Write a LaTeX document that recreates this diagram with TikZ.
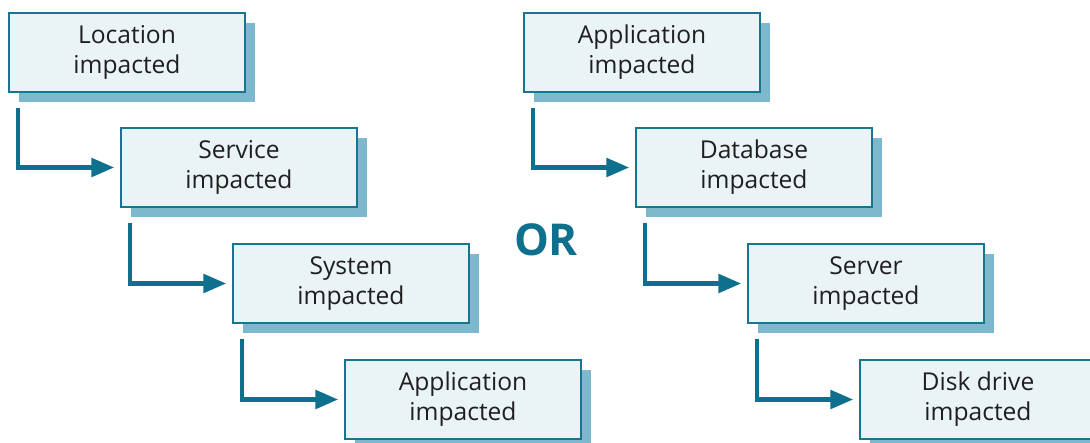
\documentclass[tikz,border=0pt]{standalone}
\usepackage{fontspec}
\setmainfont{Open Sans}
\usetikzlibrary{arrows.meta,shadows}
\definecolor{boxfill}{RGB}{234,243,246}
\definecolor{boxline}{RGB}{22,118,145}
\definecolor{shadowc}{RGB}{125,184,204}
\definecolor{flowc}{RGB}{14,112,140}

\tikzset{
  impact/.style={draw=boxline,line width=0.8pt,fill=boxfill,minimum width=4.72cm,minimum height=1.58cm,
    align=center,inner sep=0pt,font=\fontsize{14}{17}\selectfont,text=black!88,
    drop shadow={shadow xshift=5.7pt,shadow yshift=-5.7pt,fill=shadowc,opacity=1}},
  flow/.style={draw=flowc,line width=2.4pt,-{Triangle[length=13pt,width=10.5pt]},shorten >=3.5pt}
}

\begin{document}
\begin{tikzpicture}[x=0.02cm,y=-0.02cm]
\useasboundingbox (0,0) rectangle (1090,443);
\clip (0,0) rectangle (1090,443);
% left chain
\node[impact] (loc) at (127,52.5) {Location\\impacted};
\node[impact] (svc) at (239,167.5) {Service\\impacted};
\node[impact] (sys) at (351,283.5) {System\\impacted};
\node[impact] (app) at (463,399.5) {Application\\impacted};
\draw[flow] ([xshift=5.7pt,yshift=-8.5pt]loc.south west) |- (svc.west);
\draw[flow] ([xshift=5.7pt,yshift=-8.5pt]svc.south west) |- (sys.west);
\draw[flow] ([xshift=5.7pt,yshift=-8.5pt]sys.south west) |- (app.west);
% the other way round
\node[font=\fontsize{25}{28}\selectfont\bfseries,text=flowc] (or) at (546,240) {OR};
% right chain
\node[impact] (apps) at (642,52.5) {Application\\impacted};
\node[impact] (db) at (754,167.5) {Database\\impacted};
\node[impact] (srv) at (866,283.5) {Server\\impacted};
\node[impact] (disk) at (978,399.5) {Disk drive\\impacted};
\draw[flow] ([xshift=5.7pt,yshift=-8.5pt]apps.south west) |- (db.west);
\draw[flow] ([xshift=5.7pt,yshift=-8.5pt]db.south west) |- (srv.west);
\draw[flow] ([xshift=5.7pt,yshift=-8.5pt]srv.south west) |- (disk.west);
\end{tikzpicture}
\end{document}
